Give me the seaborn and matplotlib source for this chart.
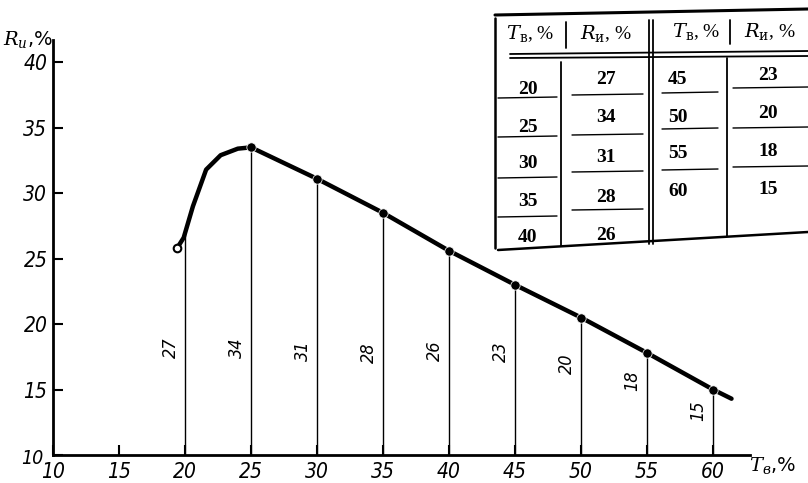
import numpy as np
import pandas as pd
import matplotlib
matplotlib.use('Agg')
import matplotlib.pyplot as plt
import seaborn as sns

# table values (T_в, % -> R_и, %)
t_left = [20, 25, 30, 35, 40]
r_left = [27, 34, 31, 28, 26]
t_right = [45, 50, 55, 60]
r_right = [23, 20, 18, 15]

# curve as drawn on the graph
curve_t = [19.4, 19.9, 20.6, 21.6, 22.7, 24.0, 25.0, 30.0, 35.0, 40.0, 45.0, 50.0, 55.0, 60.0, 61.4]
curve_r = [25.8, 26.6, 29.0, 31.8, 32.9, 33.4, 33.5, 31.1, 28.5, 25.6, 23.0, 20.5, 17.8, 15.0, 14.3]

x_ticks = [10, 15, 20, 25, 30, 35, 40, 45, 50, 55, 60]
y_ticks = [10, 15, 20, 25, 30, 35, 40]

t_all = t_left + t_right
r_all = r_left + r_right
# heights of the rotated labels next to the verticals (layout only)
label_y = [18.2, 18.2, 18.0, 17.8, 18.0, 17.9, 17.0, 15.7, 13.4]

sns.set_style('ticks')
plt.rcParams['font.family'] = ['DejaVu Sans']
plt.rcParams['mathtext.fontset'] = 'dejavuserif'
for k in ['text.color', 'xtick.color', 'ytick.color', 'axes.edgecolor', 'axes.labelcolor']:
    plt.rcParams[k] = 'black'

hand = dict(style='italic', stretch='condensed', family=['DejaVu Sans'])

W, H = 808, 483
fig = plt.figure(figsize=(W / 100, H / 100), dpi=100)
ax = fig.add_axes([53 / W, (H - 455) / H, (750 - 53) / W, (455 - 40) / H])

curve = pd.DataFrame({'t': curve_t, 'r': curve_r})
sns.lineplot(data=curve, x='t', y='r', color='black', lw=3.2, ax=ax, sort=False)

pts = pd.DataFrame({'t': t_all, 'r': np.interp(t_all, curve_t, curve_r)})
sns.scatterplot(data=pts.iloc[1:], x='t', y='r', color='black', s=45, ax=ax, zorder=5)
ax.scatter([curve_t[0]], [curve_r[0]], s=30, facecolor='white', edgecolor='black', lw=1.5, zorder=5)

# verticals from the axis up to the curve
ax.vlines(pts['t'], 10, pts['r'], color='black', lw=1.0)
for t, r, ly in zip(t_all, r_all, label_y):
    ax.text(t - 1.1, ly, str(r), rotation=90, ha='center', va='center', fontsize=13, **hand)

ax.set_xlim(10, 62.8)
ax.set_ylim(10, 41.7)
ax.set_xticks(x_ticks)
ax.set_yticks(y_ticks)
ax.set_xticklabels([str(v) for v in x_ticks])
ax.set_yticklabels(['' if v == 10 else str(v) for v in y_ticks])
ax.tick_params(axis='both', direction='in', length=7, width=1.5, labelsize=15)
ax.tick_params(axis='x', pad=5)
ax.tick_params(axis='y', pad=4)
for lab in ax.get_xticklabels() + ax.get_yticklabels():
    lab.set_style('italic')
    lab.set_stretch('condensed')
ax.set_xlabel('')
ax.set_ylabel('')
for s in ['top', 'right']:
    ax.spines[s].set_visible(False)
for s in ['left', 'bottom']:
    ax.spines[s].set_linewidth(2)

fig.text(32 / W, 1 - 459 / H, '10', fontsize=14, ha='center', va='center', **hand)
fig.text(28 / W, 1 - 40 / H, r'$R_{и}$,%', fontsize=14, ha='center', va='center')
fig.text(773 / W, 1 - 466 / H, r'$T_{в}$,%', fontsize=14, ha='center', va='center')


# ---- table in the upper right corner (pixel layout) ----
def line(x0, y0, x1, y1, lw=1.3):
    fig.add_artist(plt.Line2D([x0 / W, x1 / W], [1 - y0 / H, 1 - y1 / H], color='black', lw=lw))


def txt(x, y, s, size=13, **kw):
    fig.text(x / W, 1 - y / H, s, fontsize=size, ha='center', va='center',
             family=['Liberation Serif', 'DejaVu Serif'], **kw)


line(495, 15, 808, 9, lw=2.2)
line(495, 18, 495, 248, lw=1.8)
line(498, 250, 808, 232, lw=1.8)
line(510, 54, 808, 51, lw=1.3)
line(510, 58, 808, 56, lw=1.3)
line(566, 22, 566, 48)
line(561, 62, 561, 246)
line(649, 20, 649, 244, lw=1.3)
line(653, 20, 653, 244, lw=1.3)
line(730, 20, 730, 44)
line(727, 58, 727, 236)

txt(530, 33, r'$T_{\rm в}$, %', size=14)
txt(606, 33, r'$R_{\rm и}$, %', size=14)
txt(696, 32, r'$T_{\rm в}$, %', size=14)
txt(770, 32, r'$R_{\rm и}$, %', size=14)

row_l1 = [89, 127, 164, 202, 238]
row_l2 = [80, 118, 157, 197, 235]
row_r1 = [80, 117, 153, 192]
row_r2 = [76, 113, 152, 190]
for t, r, y1, y2 in zip(t_left, r_left, row_l1, row_l2):
    txt(528, y1, str(t), size=14, weight='bold')
    txt(606, y2, str(r), size=14, weight='bold')
for t, r, y1, y2 in zip(t_right, r_right, row_r1, row_r2):
    txt(678, y1, str(t), size=14, weight='bold')
    txt(768, y2, str(r), size=14, weight='bold')

for y in [98, 137, 178, 217]:
    line(498, y, 557, y - 1, lw=1.0)
for y in [95, 135, 172, 210]:
    line(572, y, 643, y - 1, lw=1.0)
for y in [93, 129, 170]:
    line(662, y, 718, y - 1, lw=1.0)
for y in [88, 128, 167]:
    line(733, y, 808, y - 1, lw=1.0)

fig.savefig('out.png', dpi=100)
